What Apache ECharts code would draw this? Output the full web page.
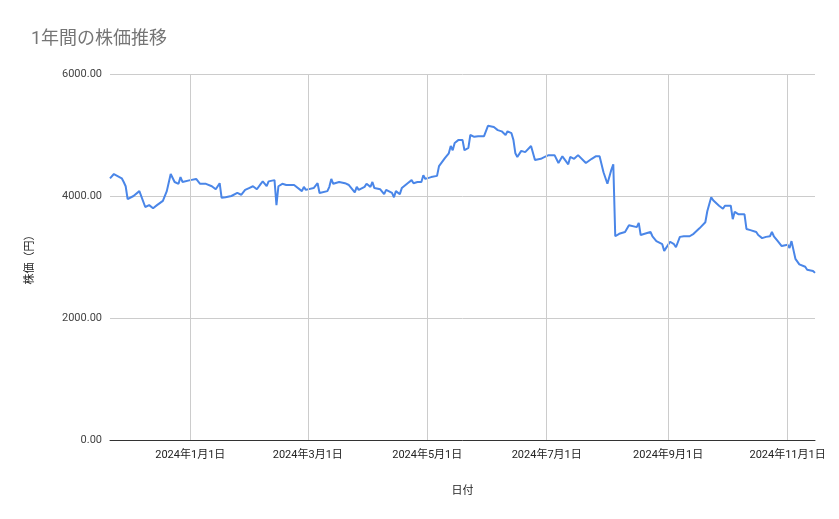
<!DOCTYPE html><html><head><meta charset="utf-8"><script src="https://cdn.jsdelivr.net/npm/echarts@6/dist/echarts.min.js"></script>
<style>html,body{margin:0;padding:0;background:#fff}#c{width:839px;height:519px}</style></head><body><div id="c"></div><script>
const dates=["2023-11-21","2023-11-23","2023-11-27","2023-11-28","2023-11-29","2023-11-30","2023-12-03","2023-12-06","2023-12-09","2023-12-11","2023-12-13","2023-12-15","2023-12-16","2023-12-18","2023-12-20","2023-12-22","2023-12-24","2023-12-26","2023-12-27","2023-12-28",
"2024-01-01","2024-01-04","2024-01-06","2024-01-09","2024-01-12","2024-01-14","2024-01-16","2024-01-17","2024-01-19","2024-01-22","2024-01-23","2024-01-25","2024-01-27","2024-01-29","2024-01-31","2024-02-02","2024-02-04","2024-02-06","2024-02-07","2024-02-09","2024-02-10","2024-02-13","2024-02-14","2024-02-15","2024-02-17","2024-02-19","2024-02-23","2024-02-27","2024-02-28","2024-02-29",
"2024-03-01","2024-03-04","2024-03-06","2024-03-07","2024-03-11","2024-03-12","2024-03-13","2024-03-14","2024-03-17","2024-03-20","2024-03-22","2024-03-25","2024-03-26","2024-03-27","2024-03-30","2024-03-31","2024-04-02","2024-04-03","2024-04-04","2024-04-07","2024-04-09","2024-04-10","2024-04-13","2024-04-14","2024-04-15","2024-04-17","2024-04-18","2024-04-21","2024-04-23","2024-04-24","2024-04-26","2024-04-28","2024-04-29","2024-04-30",
"2024-05-03","2024-05-06","2024-05-07","2024-05-08","2024-05-10","2024-05-12","2024-05-13","2024-05-14","2024-05-15","2024-05-17","2024-05-19","2024-05-20","2024-05-22","2024-05-23","2024-05-25","2024-05-27","2024-05-28","2024-05-30",
"2024-06-01","2024-06-02","2024-06-04","2024-06-06","2024-06-08","2024-06-10","2024-06-11","2024-06-13","2024-06-14","2024-06-15","2024-06-16","2024-06-18","2024-06-20","2024-06-21","2024-06-23","2024-06-24","2024-06-25","2024-06-28","2024-06-29","2024-06-30",
"2024-07-02","2024-07-05","2024-07-07","2024-07-09","2024-07-12","2024-07-13","2024-07-15","2024-07-17","2024-07-18","2024-07-21","2024-07-22","2024-07-24","2024-07-26","2024-07-28","2024-07-30",
"2024-08-01","2024-08-03","2024-08-04","2024-08-05","2024-08-07","2024-08-10","2024-08-11","2024-08-12","2024-08-16","2024-08-17","2024-08-18","2024-08-20","2024-08-23","2024-08-24","2024-08-26","2024-08-29","2024-08-30","2024-08-31",
"2024-09-02","2024-09-04","2024-09-05","2024-09-07","2024-09-09","2024-09-12","2024-09-14","2024-09-17","2024-09-20","2024-09-21","2024-09-23","2024-09-24","2024-09-27","2024-09-29","2024-09-30",
"2024-10-03","2024-10-04","2024-10-05","2024-10-07","2024-10-10","2024-10-11","2024-10-13","2024-10-14","2024-10-16","2024-10-17","2024-10-19","2024-10-21","2024-10-23","2024-10-24","2024-10-25","2024-10-27","2024-10-29",
"2024-11-01","2024-11-02","2024-11-03","2024-11-05","2024-11-07","2024-11-08","2024-11-10","2024-11-11","2024-11-14","2024-11-15"];
const prices=[4290,4360,4290,4230,4160,3950,4000,4080,3820,3850,3800,3850,3820,3920,4080,4360,4230,4200,4310,4230,
4260,4280,4200,4200,4160,4110,4210,3970,3980,4000,4030,4050,4020,4100,4130,4160,4110,4200,4240,4160,4240,4260,3850,4160,4200,4180,4180,4080,4150,4100,
4130,4130,4210,4050,4080,4150,4280,4200,4230,4210,4180,4060,4150,4100,4150,4200,4150,4230,4130,4110,4030,4100,4050,3980,4080,4030,4130,4210,4260,4210,4230,4230,4340,4280,
4310,4330,4490,4520,4620,4700,4820,4750,4870,4920,4920,4750,4790,5000,4970,4980,4970,4980,
5150,5150,5130,5080,5060,5000,5060,5030,4920,4700,4640,4740,4720,4700,4820,4790,4590,4610,4590,4640,
4670,4670,4540,4650,4520,4640,4610,4670,4690,4540,4520,4610,4650,4650,4390,
4200,4430,4520,3340,3380,3410,3390,3520,3490,3560,3360,3380,3410,3340,3260,3210,3100,3100,
3250,3210,3160,3330,3340,3340,3380,3470,3570,3750,3980,3930,3840,3790,3840,
3840,3620,3740,3700,3700,3460,3440,3440,3410,3360,3310,3330,3340,3410,3340,3260,3180,
3200,3150,3260,2970,2880,2850,2840,2790,2770,2740];
const tickDates=["2024-01-01","2024-03-01","2024-05-01","2024-07-01","2024-09-01","2024-11-01"];
const ts=d=>+new Date(d+"T00:00:00Z");
const tickTs=tickDates.map(ts);
const data=dates.map((d,i)=>[ts(d),prices[i]]);
const chart=echarts.init(document.getElementById('c'));
const font="Roboto, 'Noto Sans CJK JP', sans-serif";
chart.setOption({
 animation:false,
 title:{text:'1年間の株価推移',left:26,top:26,textStyle:{color:'#757575',fontSize:18,fontWeight:'normal',fontFamily:font}},
 grid:{left:110,right:24,top:74,bottom:79},
 xAxis:{type:'value',min:ts("2023-11-21"),max:ts("2024-11-15"),
  name:'日付',nameLocation:'middle',nameGap:46,nameTextStyle:{color:'#222',fontSize:11,fontFamily:font},
  axisLine:{lineStyle:{color:'#333'}},axisTick:{show:false},splitLine:{show:false},
  axisLabel:{customValues:tickTs,color:'#222',fontSize:11,fontFamily:font,margin:10,
   formatter:v=>{const d=new Date(v);return d.getUTCFullYear()+'年'+(d.getUTCMonth()+1)+'月'+d.getUTCDate()+'日';}}},
 yAxis:{type:'value',min:0,max:6000,interval:2000,
  name:'株価（円）',nameLocation:'middle',nameGap:74,nameRotate:90,nameTextStyle:{color:'#222',fontSize:11,fontFamily:font},
  axisLine:{show:false},axisTick:{show:false},splitLine:{lineStyle:{color:'#ccc'}},
  axisLabel:{color:'#444',fontSize:11,fontFamily:font,formatter:v=>v.toFixed(2)}},
 series:[{type:'line',data:data,showSymbol:false,lineStyle:{color:'#4a86e8',width:2},itemStyle:{color:'#4a86e8'},
  markLine:{silent:true,symbol:'none',label:{show:false},lineStyle:{color:'#ccc',type:'solid',width:1},
   data:tickTs.map(t=>({xAxis:t}))}}]
});
</script></body></html>
